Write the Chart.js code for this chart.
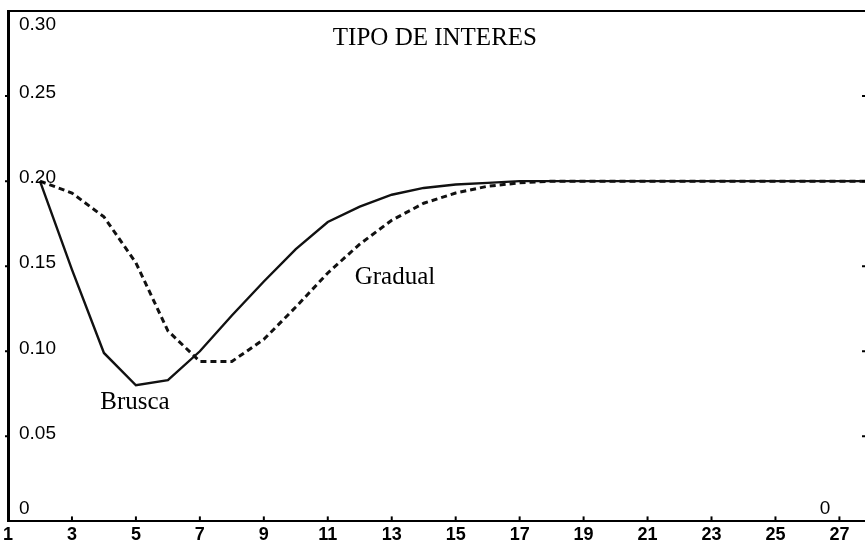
<!DOCTYPE html>
<html>
  <head>
    <meta charset="utf-8">
    <title>Tipo de interes</title>
    <script src="https://cdn.jsdelivr.net/npm/chart.js@4.4.1/dist/chart.umd.min.js"></script>
    <style>
      body {
        margin: 0;
        background-color: white;
      }
      #box {
        width: 865px;
        height: 547px;
      }
    </style>
  </head>
  <body>
    <div id="box"><canvas id="canvas"></canvas></div>

    <script>
      // periods on the x axis and the two rate paths
      var periods = [2, 3, 4, 5, 6, 7, 8, 9, 10, 11, 12, 13, 14, 15, 16, 17, 18, 19, 20, 21, 22, 23, 24, 25, 26, 27, 28];
      var brusca = [0.200, 0.148, 0.099, 0.080, 0.083, 0.100, 0.121, 0.141, 0.160, 0.176, 0.185, 0.192, 0.196, 0.198, 0.199, 0.200,
                    0.200, 0.200, 0.200, 0.200, 0.200, 0.200, 0.200, 0.200, 0.200, 0.200, 0.200];
      var gradual = [0.200, 0.193, 0.179, 0.152, 0.112, 0.094, 0.094, 0.107, 0.126, 0.146, 0.163, 0.177, 0.187, 0.193, 0.197, 0.199,
                     0.200, 0.200, 0.200, 0.200, 0.200, 0.200, 0.200, 0.200, 0.200, 0.200, 0.200];

      var xTicks = [1, 3, 5, 7, 9, 11, 13, 15, 17, 19, 21, 23, 25, 27];
      var yTicks = [0, 0.05, 0.10, 0.15, 0.20, 0.25, 0.30];
      var yLabels = ["0", "0.05", "0.10", "0.15", "0.20", "0.25", "0.30"];

      // text written inside the plot, placed in data units
      var notes = ["TIPO DE INTERES", "Gradual", "Brusca"];
      var noteX = [14.35, 13.1, 4.97];
      var noteY = [0.284, 0.1435, 0.0697];

      function points(ys) {
        return periods.map(function (p, i) { return { x: p, y: ys[i] }; });
      }

      var framePlugin = {
        id: 'frame',
        afterDraw: function (chart) {
          var ctx = chart.ctx;
          var a = chart.chartArea;
          var xs = chart.scales.x;
          var ys = chart.scales.y;
          ctx.save();
          ctx.strokeStyle = '#000';
          ctx.fillStyle = '#000';

          // top border
          ctx.lineWidth = 2;
          ctx.beginPath();
          ctx.moveTo(a.left, a.top);
          ctx.lineTo(a.right, a.top);
          ctx.stroke();

          // x tick marks pointing up into the plot
          xTicks.forEach(function (v) {
            var px = xs.getPixelForValue(v);
            ctx.beginPath();
            ctx.moveTo(px, a.bottom);
            ctx.lineTo(px, a.bottom - 5);
            ctx.stroke();
          });

          // small marks on both sides for the y ticks
          yTicks.forEach(function (v, i) {
            if (i == 0 || i == yTicks.length - 1) return;
            var py = ys.getPixelForValue(v);
            ctx.beginPath();
            ctx.moveTo(a.left - 3, py);
            ctx.lineTo(a.left, py);
            ctx.moveTo(a.right - 3, py);
            ctx.lineTo(a.right, py);
            ctx.stroke();
          });

          // y labels sit inside the frame
          ctx.font = '19px "Liberation Sans", Arial, sans-serif';
          ctx.textAlign = 'left';
          ctx.textBaseline = 'middle';
          yTicks.forEach(function (v, i) {
            var py = ys.getPixelForValue(v);
            if (i == 0) py -= 13;
            else if (i == yTicks.length - 1) py += 14;
            else py -= 3;
            ctx.fillText(yLabels[i], a.left + 11, py);
          });
          ctx.textAlign = 'center';
          ctx.fillText("0", xs.getPixelForValue(26.55), ys.getPixelForValue(0) - 13);

          ctx.font = '25px "Liberation Serif", "Times New Roman", serif';
          notes.forEach(function (t, i) {
            ctx.fillText(t, xs.getPixelForValue(noteX[i]), ys.getPixelForValue(noteY[i]));
          });
          ctx.restore();
        }
      };

      var ctx = document.getElementById('canvas').getContext('2d');
      var myChart = new Chart(ctx, {
        type: 'line',
        data: {
          datasets: [
            { label: 'Brusca', data: points(brusca), borderColor: '#111', borderWidth: 2.4, pointRadius: 0, tension: 0 },
            { label: 'Gradual', data: points(gradual), borderColor: '#111', borderWidth: 3, borderDash: [6, 4], pointRadius: 0, tension: 0 }
          ]
        },
        plugins: [framePlugin],
        options: {
          responsive: true,
          maintainAspectRatio: false,
          animation: false,
          layout: { padding: { left: 8, top: 11, right: 0, bottom: -2 } },
          plugins: {
            legend: { display: false },
            tooltip: { enabled: false }
          },
          scales: {
            x: {
              type: 'linear',
              min: 1,
              max: 27.8,
              afterBuildTicks: function (s) {
                s.ticks = xTicks.map(function (v) { return { value: v }; });
              },
              ticks: {
                autoSkip: false,
                maxRotation: 0,
                padding: 3,
                color: '#000',
                font: { family: '"Liberation Sans", Arial, sans-serif', size: 18, weight: 'bold' }
              },
              grid: { display: false, drawTicks: false },
              border: { display: true, color: '#000', width: 2 }
            },
            y: {
              min: 0,
              max: 0.30,
              afterBuildTicks: function (s) {
                s.ticks = yTicks.map(function (v) { return { value: v }; });
              },
              ticks: { display: false },
              grid: { display: false, drawTicks: false },
              border: { display: true, color: '#000', width: 3 }
            }
          }
        }
      });
    </script>
  </body>
</html>
